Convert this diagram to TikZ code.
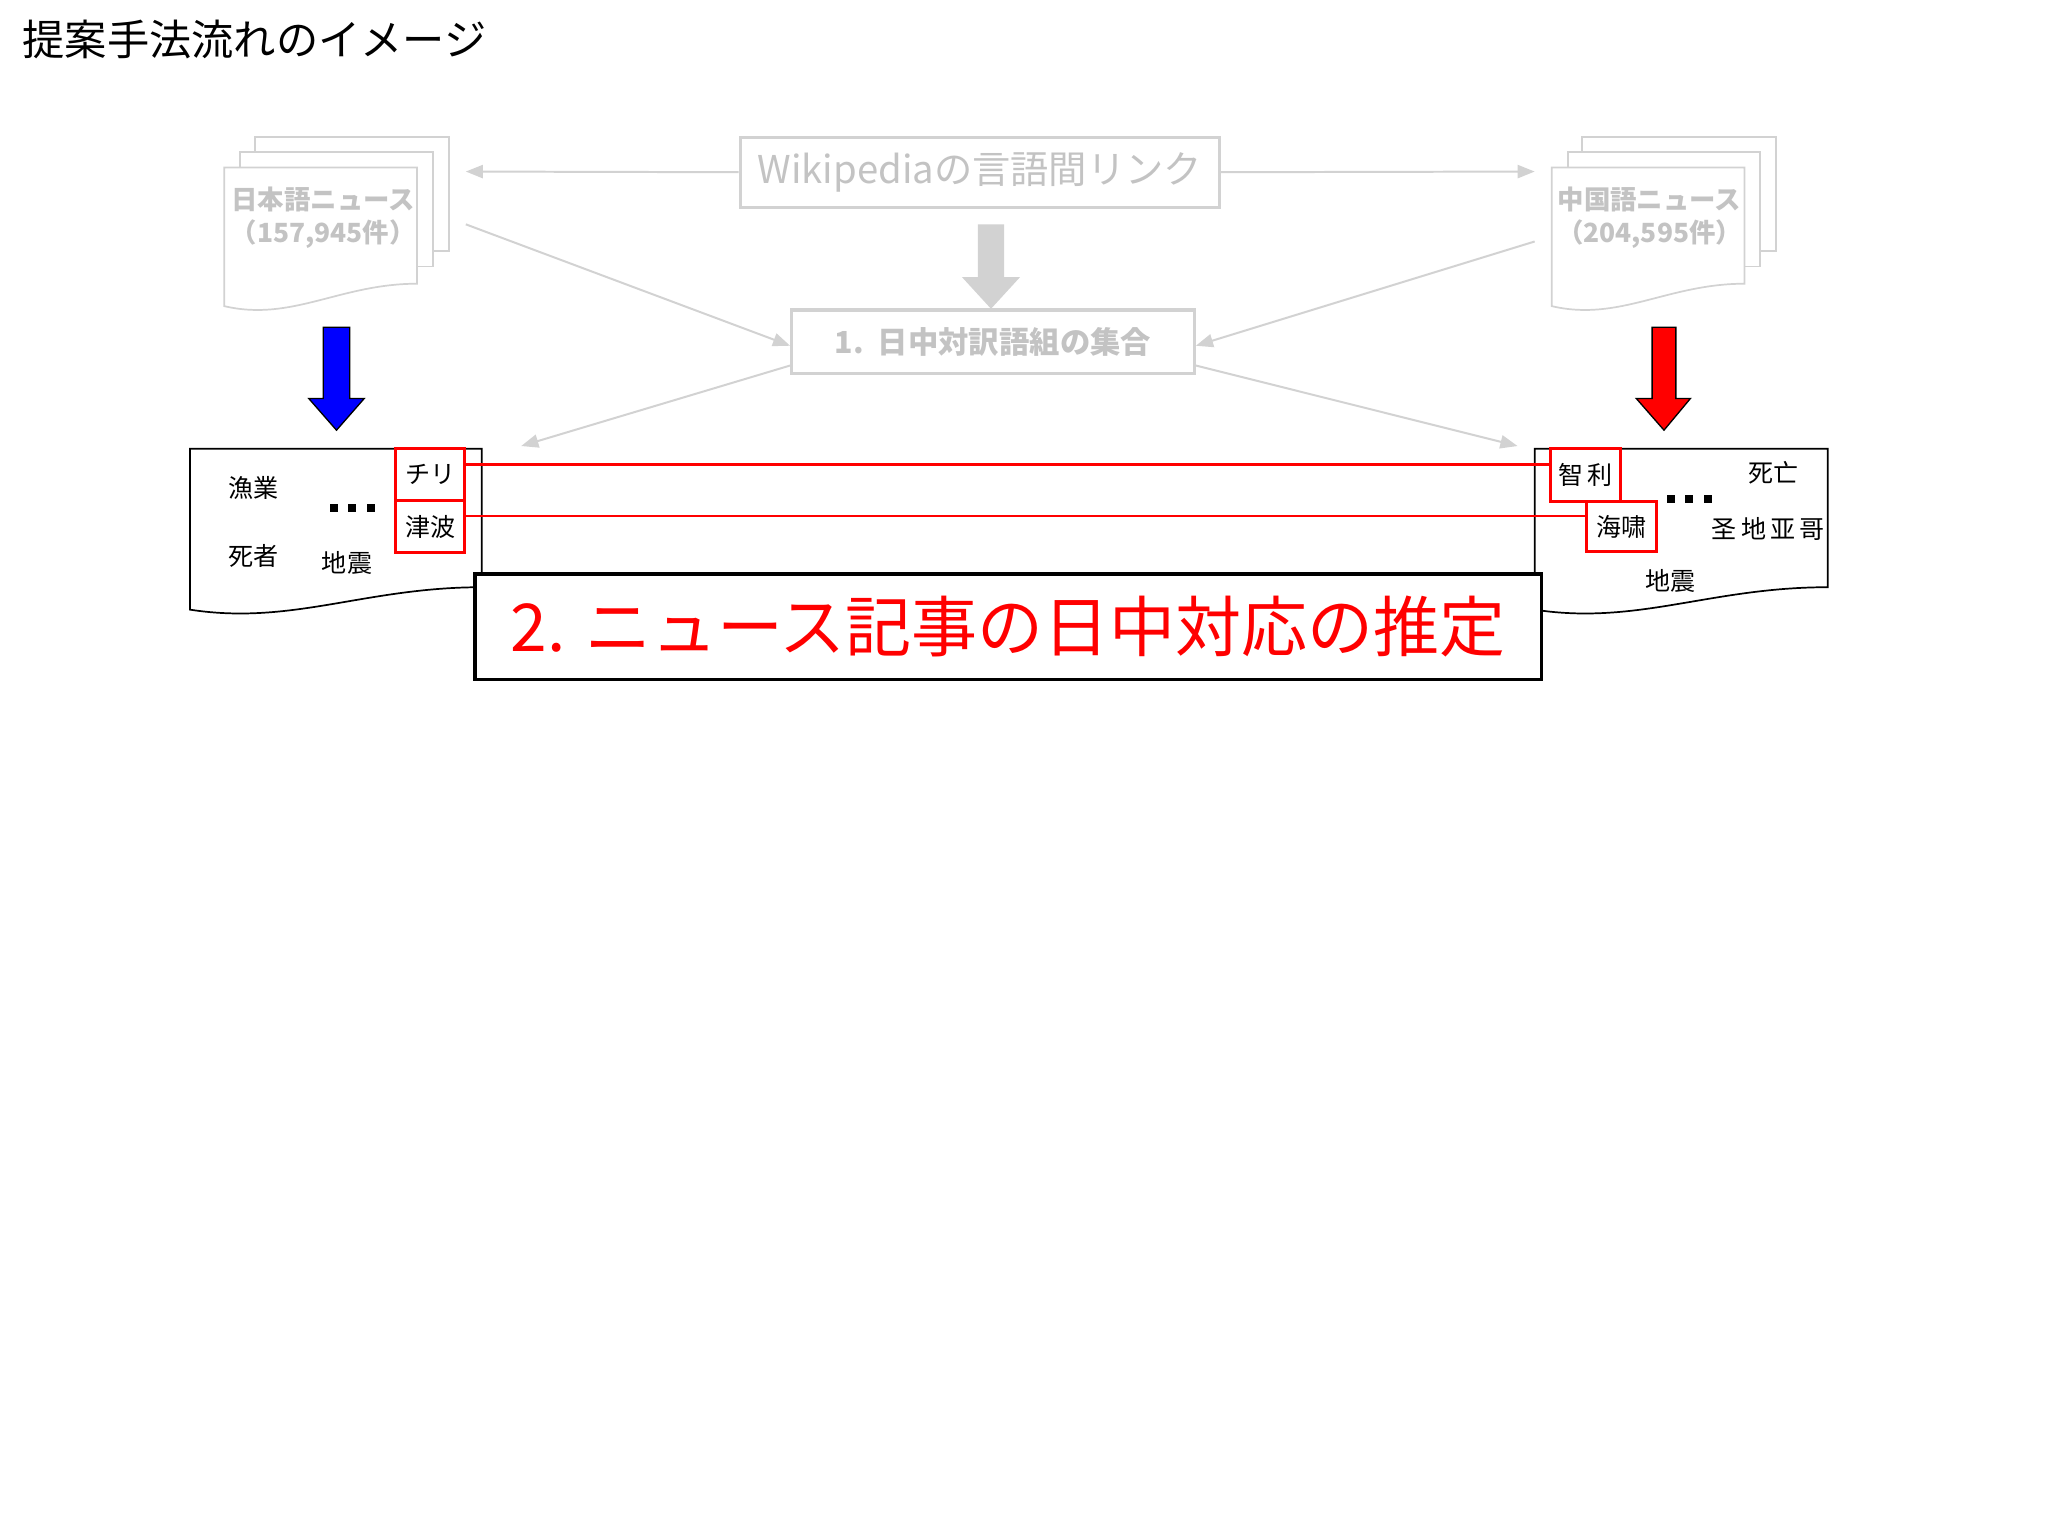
\documentclass[tikz,border=0pt]{standalone}
\usepackage{fontspec}
\setmainfont{Noto Sans CJK JP}
\newfontfamily\scfont{Noto Sans CJK SC}
\usetikzlibrary{arrows.meta}
\definecolor{lg}{RGB}{210,210,210}
\definecolor{lgt}{RGB}{195,195,195}
\tikzset{
  fs/.style={font=\fontsize{#1}{#1}\selectfont},
  gline/.style={draw=lg,line width=1.5pt,-{Triangle[length=13pt,width=10pt]}},
  page/.style={draw=lg,line width=1.3pt,fill=white},
  word/.style={fs=19,inner sep=0pt},
  rbox/.style={draw=red,line width=2.2pt},
  rline/.style={draw=red,line width=2pt},
}
\newcommand{\docshape}[5]{% x1,y1,x2,yL,style
  \path[#5] (#1,#2) -- (#3,#2) -- (#3,#4-17) .. controls ({#1+0.6*(#3-#1)},#4-17) and ({#1+0.35*(#3-#1)},#4+12) .. (#1,#4) -- cycle;}
\newcommand{\sqdots}{\rule{6pt}{6pt}\hspace{8pt}\rule{6pt}{6pt}\hspace{8pt}\rule{6pt}{6pt}}
\begin{document}
\begin{tikzpicture}[x=1pt,y=-1pt]
\useasboundingbox[fill=white] (0,0) rectangle (1552,1164);
\node[fs=32,anchor=west,inner sep=0pt] (title) at (17,30) {提案手法流れのイメージ};
% Japanese news stack
\path[page] (193,104) rectangle (340,190);
\path[page] (182,115) rectangle (328,202);
\docshape{170}{127}{316}{232}{page}
\node[text=lgt,font=\bfseries\fontsize{20}{25}\selectfont,align=center] (jan) at (245,165) {日本語ニュース\\（157,945件）};
% Chinese news stack
\path[page] (1199,104) rectangle (1346,190);
\path[page] (1188,115) rectangle (1334,202);
\docshape{1176}{127}{1322}{232}{page}
\node[text=lgt,font=\bfseries\fontsize{20}{25}\selectfont,align=center] (chn) at (1250,165) {中国語ニュース\\（204,595件）};
% Wikipedia box
\node[draw=lg,line width=2.5pt,minimum width=363pt,minimum height=53pt,text=lgt,fs=29] (wiki) at (742.5,130.5) {Wikipediaの言語間リンク};
\node[draw=lg,line width=2.5pt,minimum width=305pt,minimum height=48pt,text=lgt,font=\bfseries\fontsize{23}{23}\selectfont] (set) at (752.5,259) {1.\ \ 日中対訳語組の集合};
\coordinate (jl) at (353,130); \coordinate (cr) at (1163,130);
\draw[gline] (wiki.west) -- (jl);
\draw[gline] (wiki.east) -- (cr);
\coordinate (ja) at (353,170); \coordinate (ca) at (1163,183);
\draw[gline] (ja) -- (set.west |- 0,262);
\draw[gline] (ca) -- (set.east |- 0,262);
\coordinate (ld) at (395,338); \coordinate (rd) at (1150,338);
\draw[gline] (set.south west |- 0,277) -- (ld);
\draw[gline] (set.south east |- 0,277) -- (rd);
% gray block arrow
\path[fill=lg] (741,170) -- (761,170) -- (761,210) -- (773,210) -- (751,234) -- (729,210) -- (741,210) -- cycle;
% blue and red block arrows
\path[draw=black,fill=blue,line width=1pt] (245,248) -- (265,248) -- (265,302) -- (276,302) -- (255,326) -- (234,302) -- (245,302) -- cycle;
\path[draw=black,fill=red,line width=1pt] (1252,248) -- (1270,248) -- (1270,302) -- (1281,302) -- (1261,326) -- (1240,302) -- (1252,302) -- cycle;
% left doc
\docshape{144}{340}{365}{462}{draw=black,line width=1.3pt,fill=white}
\node[word] (w1) at (192,370) {漁業};
\node[word] (w2) at (192,421) {死者};
\node[word] (w3) at (263,427) {地震};
\node[inner sep=0pt] (dl) at (267,385) {\sqdots};
\node[rbox,minimum width=52pt,minimum height=39pt,word] (chili) at (326,359.5) {チリ};
\node[rbox,minimum width=52pt,minimum height=40pt,word] (tsu) at (326,399) {津波};
% right doc
\docshape{1163}{340}{1385}{462}{draw=black,line width=1.3pt,fill=white}
\node[rbox,minimum width=53pt,minimum height=40pt,word,font=\scfont\fontsize{19}{19}\selectfont] (zhi) at (1201.5,360) {智\,利};
\node[rbox,minimum width=53pt,minimum height=38pt,word,font=\scfont\fontsize{19}{19}\selectfont] (hai) at (1228.5,399) {海啸};
\node[word,font=\scfont\fontsize{19}{19}\selectfont] (c1) at (1344,358) {死亡};
\node[word,font=\scfont\fontsize{19}{19}\selectfont] (c2) at (1340,401) {圣\,地\,亚\,哥};
\node[word] (c3) at (1266,440) {地震};
\node[inner sep=0pt] (dr) at (1280,378) {\sqdots};
% connecting red lines
\draw[rline] (chili.east |- 0,352) -- (zhi.west |- 0,352);
\draw[rline] (tsu.east |- 0,391) -- (hai.west |- 0,391);
% big box
\node[draw=black,line width=2.5pt,fill=white,minimum width=808pt,minimum height=80pt,text=red,fs=50] (est) at (764,475) {2. ニュース記事の日中対応の推定};
\end{tikzpicture}
\end{document}
